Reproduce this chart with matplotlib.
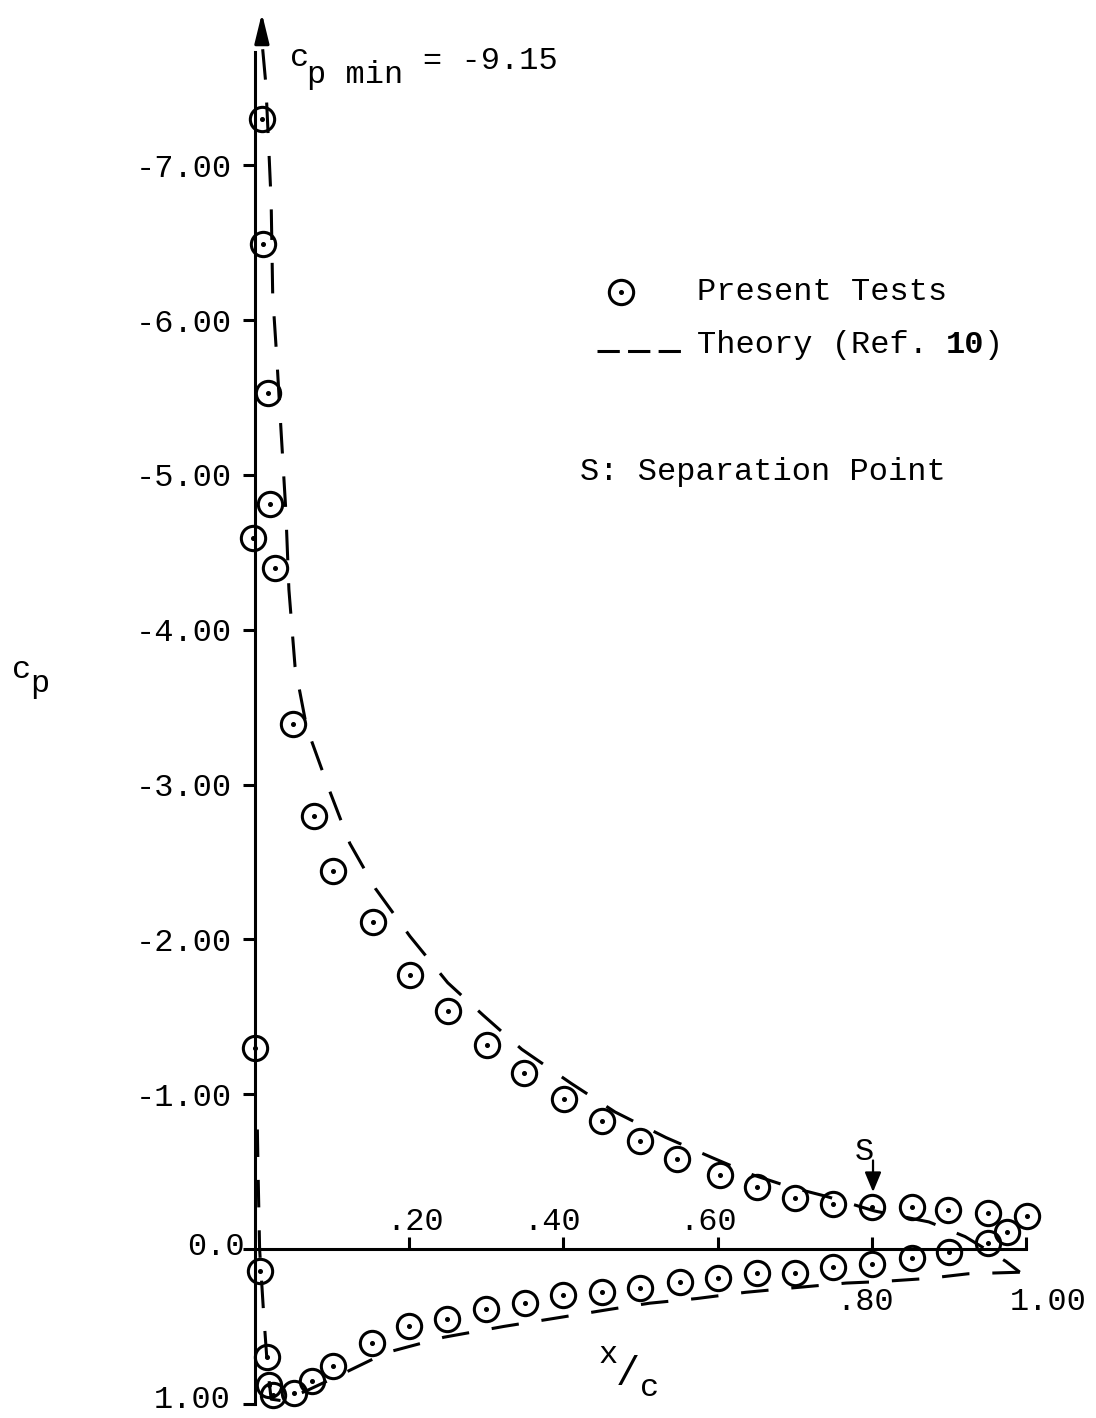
import matplotlib
matplotlib.use('Agg')
import matplotlib.pyplot as plt

# --- data ---
# present tests, upper surface
x_up = [0.009, 0.011, 0.017, 0.020, 0.026, 0.049, 0.076, 0.101, 0.153, 0.201,
        0.250, 0.301, 0.349, 0.401, 0.450, 0.500, 0.547, 0.603, 0.651, 0.700,
        0.750, 0.800, 0.852, 0.899, 0.951, 1.001]
cp_up = [-7.30, -6.49, -5.53, -4.81, -4.40, -3.39, -2.80, -2.44, -2.11, -1.77,
         -1.54, -1.32, -1.14, -0.97, -0.83, -0.70, -0.58, -0.48, -0.40, -0.33,
         -0.29, -0.27, -0.27, -0.25, -0.23, -0.21]

# present tests, leading edge taps
x_le = [-0.002, 0.0]
cp_le = [-4.59, -1.30]

# present tests, lower surface
x_lo = [0.006, 0.016, 0.018, 0.023, 0.051, 0.074, 0.101, 0.152, 0.200, 0.249,
        0.300, 0.350, 0.400, 0.450, 0.500, 0.551, 0.600, 0.651, 0.700, 0.750,
        0.800, 0.852, 0.900, 0.951, 0.975]
cp_lo = [0.14, 0.70, 0.88, 0.94, 0.93, 0.85, 0.755, 0.61, 0.50, 0.45,
         0.39, 0.35, 0.30, 0.28, 0.25, 0.21, 0.19, 0.155, 0.155, 0.115,
         0.10, 0.06, 0.02, -0.04, -0.11]

# theory (Ref. 10), upper surface from suction peak to trailing edge
x_th_up = [0.010, 0.014, 0.018, 0.021, 0.023, 0.0285, 0.034, 0.040, 0.044, 0.052,
           0.067, 0.096, 0.123, 0.156, 0.201, 0.250, 0.296, 0.346, 0.410, 0.467,
           0.533, 0.593, 0.645, 0.694, 0.741, 0.804, 0.874, 0.921, 0.974, 0.992]
cp_th_up = [-7.75, -7.53, -7.10, -6.76, -6.16, -5.74, -5.27, -4.77, -4.26, -3.76,
            -3.37, -2.97, -2.62, -2.33, -2.02, -1.72, -1.51, -1.29, -1.07, -0.885,
            -0.72, -0.59, -0.48, -0.40, -0.34, -0.245, -0.175, -0.08, 0.08, 0.15]

# theory, lower surface from trailing edge round to leading edge
x_th_lo = [0.992, 0.925, 0.873, 0.813, 0.767, 0.700, 0.636, 0.573, 0.512, 0.460,
           0.392, 0.323, 0.245, 0.170, 0.112, 0.065, 0.035, 0.021, 0.016, 0.011,
           0.006, 0.004, 0.003]
cp_th_lo = [0.15, 0.16, 0.19, 0.21, 0.22, 0.25, 0.28, 0.32, 0.35, 0.39,
            0.445, 0.50, 0.57, 0.67, 0.81, 0.92, 0.98, 0.97, 0.75, 0.40,
            0.0, -0.5, -0.8]

cp_min_text = '= -9.15'
y_ticks = [-7, -6, -5, -4, -3, -2, -1, 0, 1]
y_tick_labels = ['-7.00', '-6.00', '-5.00', '-4.00', '-3.00', '-2.00', '-1.00', '', '']
x_ticks = [0.2, 0.4, 0.6, 0.8, 1.0]
x_tick_labels = ['.20', '.40', '.60', '.80', '1.00']

# --- figure ---
FONT = 'Liberation Mono'
FS = 23
LW = 2.2
CHAR = FS * 100 / 72 * 0.6 / 771   # one monospace character, in x data units

fig = plt.figure(figsize=(10.96, 14.18), dpi=100)
ax = fig.add_axes([0, 0, 1, 1])
ax.set_xlim(-0.3307, 1.0908)
ax.set_ylim(1.0917, -8.068)
ax.patch.set_visible(False)

for side in ['top', 'right']:
    ax.spines[side].set_visible(False)
ax.spines['left'].set_position(('data', 0))
ax.spines['left'].set_bounds(1.0, -7.73)
ax.spines['bottom'].set_position(('data', 0))
ax.spines['bottom'].set_bounds(0, 1.0)
for side in ['left', 'bottom']:
    ax.spines[side].set_linewidth(LW)

ax.set_yticks(y_ticks)
ax.set_yticklabels(y_tick_labels, fontfamily=FONT, fontsize=FS)
ax.tick_params(axis='y', direction='out', length=8.6, width=LW, pad=8)
ax.set_xticks(x_ticks)
ax.set_xticklabels([])
ax.tick_params(axis='x', direction='in', length=8.6, width=LW)

# x tick labels: first three above the axis, last two below
x_lab_shift = [0.008, -0.014, -0.012, -0.009, 0.029]
for i, (t, lab) in enumerate(zip(x_ticks, x_tick_labels)):
    yy = -0.175 if t < 0.7 else 0.343
    ax.text(t + x_lab_shift[i], yy, lab, ha='center', va='center',
            fontfamily=FONT, fontsize=FS)
ax.text(-0.013, -0.01, '0.0', ha='right', va='center', fontfamily=FONT, fontsize=FS)
ax.text(-0.032, 0.975, '1.00', ha='right', va='center', fontfamily=FONT, fontsize=FS)

# theory curves
ax.plot(x_th_up, cp_th_up, color='black', lw=LW, ls=(0, (10, 7.5)))
ax.plot(x_th_lo, cp_th_lo, color='black', lw=LW, ls=(0, (9, 7.5)))
ax.annotate('', xy=(0.009, -8.0), xytext=(0.009, -7.78),
            arrowprops=dict(arrowstyle='-|>,head_length=0.9,head_width=0.22',
                            lw=LW, color='black', mutation_scale=20))

# test points: open circle with a centre dot
for xs, ys in [(x_up, cp_up), (x_le, cp_le), (x_lo, cp_lo)]:
    ax.plot(xs, ys, 'o', ms=17.5, mfc='none', mec='black', mew=LW, clip_on=False)
    ax.plot(xs, ys, 'o', ms=2.6, color='black', clip_on=False)

# labels
ax.text(-0.303, -3.69, 'c', fontfamily=FONT, fontsize=FS, ha='center', va='baseline')
ax.text(-0.279, -3.60, 'p', fontfamily=FONT, fontsize=FS, ha='center', va='baseline')
ax.text(0.045, -7.64, 'c', fontfamily=FONT, fontsize=FS, va='baseline')
ax.text(0.067, -7.53, 'p min', fontfamily=FONT, fontsize=FS, va='baseline')
ax.text(0.218, -7.62, cp_min_text, fontfamily=FONT, fontsize=FS, va='baseline')

ax.text(0.458, 0.685, 'x', fontfamily=FONT, fontsize=FS, ha='center', va='center')
ax.text(0.484, 0.81, '/', fontfamily=FONT, fontsize=FS + 6, ha='center', va='center')
ax.text(0.512, 0.90, 'c', fontfamily=FONT, fontsize=FS, ha='center', va='center')

# separation point marker
ax.text(0.778, -0.575, 'S', fontfamily=FONT, fontsize=FS, va='baseline')
ax.annotate('', xy=(0.8016, -0.35), xytext=(0.8016, -0.59),
            arrowprops=dict(arrowstyle='-|>,head_length=0.6,head_width=0.25',
                            lw=1.6, color='black', mutation_scale=20))

# legend, drawn by hand like the original
ax.plot([0.475], [-6.18], 'o', ms=17.5, mfc='none', mec='black', mew=LW)
ax.plot([0.475], [-6.18], 'o', ms=2.6, color='black')
ax.text(0.573, -6.13, 'Present Tests', fontfamily=FONT, fontsize=FS, va='baseline')
ax.plot([0.444, 0.552], [-5.80, -5.80], color='black', lw=LW, ls=(0, (7.3, 2.7)))
ax.text(0.573, -5.79, 'Theory (Ref. ', fontfamily=FONT, fontsize=FS, va='baseline')
ax.text(0.573 + 13 * CHAR, -5.79, '10', fontfamily=FONT, fontsize=FS,
        fontweight='bold', va='baseline')
ax.text(0.573 + 15 * CHAR, -5.79, ')', fontfamily=FONT, fontsize=FS, va='baseline')
ax.text(0.4215, -4.97, 'S: Separation Point', fontfamily=FONT, fontsize=FS, va='baseline')

plt.savefig('out.png', dpi=100)
